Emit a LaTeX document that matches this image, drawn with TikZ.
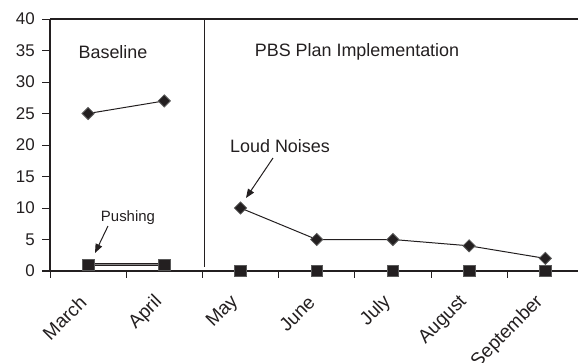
\documentclass[tikz,border=0pt]{standalone}
\usepackage{fontspec}
\setmainfont{Liberation Sans}
\usetikzlibrary{shapes.geometric,arrows.meta}
\definecolor{ink}{HTML}{231F20}
\definecolor{edge}{HTML}{5A5A5A}
\tikzset{
  dmark/.style={diamond,fill=ink,draw=edge,line width=0.8bp,inner sep=0pt,minimum width=12.5bp,minimum height=12.5bp},
  smark/.style={rectangle,fill=ink,draw=edge,line width=0.6bp,inner sep=0pt,minimum size=11.5bp},
  series/.style={draw=ink,line width=1bp},
  pushline/.style={draw=ink,line width=0.7bp,double=ink!55,double distance=1.3bp},
  axisline/.style={draw=ink,line width=1.9bp},
  frameline/.style={draw=ink,line width=1.3bp},
  tick/.style={draw=ink,line width=1bp},
  ylab/.style={anchor=east,inner sep=0pt,text=ink,font=\fontsize{17}{19}\selectfont},
  mlab/.style={anchor=east,rotate=45,inner sep=0pt,text=ink,font=\fontsize{19}{21}\selectfont},
  lab/.style={inner sep=0pt,text=ink,font=\fontsize{18}{20}\selectfont},
  slab/.style={inner sep=0pt,text=ink,font=\fontsize{15}{17}\selectfont},
  arr/.style={draw=ink,line width=1bp,-{Triangle[length=9bp,width=7bp]}},
}
\begin{document}
\begin{tikzpicture}[x=1bp,y=-1bp]
\useasboundingbox (0,0) rectangle (578,362);
\begin{scope}
\clip (0,0) rectangle (578,362);
% frame coordinates
\coordinate (o) at (50,271);
\coordinate (tl) at (50,19);
\coordinate (tr) at (578,19);
\coordinate (xr) at (578,271);
\coordinate (xl) at (42,271);
\coordinate (dtop) at (204,19);
\coordinate (dbot) at (204,267);
% y ticks and labels
\foreach \j/\v in {0/0,1/5,2/10,3/15,4/20,5/25,6/30,7/35,8/40}{
  \coordinate (yt\j) at (42,{271-31.5*\j});
  \coordinate (yb\j) at (50,{271-31.5*\j});
  \draw[tick] (yt\j) -- (yb\j);
  \node[ylab] (yl\j) at (35,{271-31.5*\j}) {\v};
}
% x ticks
\foreach \i in {0,...,7}{
  \coordinate (xt\i) at ({50+76.2*\i},271);
  \coordinate (xb\i) at ({50+76.2*\i},278);
  \draw[tick] (xt\i) -- (xb\i);
}
% axes and frame
\draw[frameline] (tl) -- (tr);
\draw[axisline] (tl) -- (o);
\draw[axisline] (xl) -- (xr);
\draw[series] (dtop) -- (dbot);
% month labels
\foreach \k/\m in {0/March,1/April,2/May,3/June,4/July,5/August,6/September}{
  \node[mlab] (m\k) at ({50+76.2*(\k+0.5)-5},299) {\m};
}
% data coordinates
\foreach \k/\v in {0/25,1/27,2/10,3/5,4/5,5/4,6/2}{
  \coordinate (d\k) at ({50+76.2*(\k+0.5)},{271-6.3*\v});
}
\foreach \k/\v in {0/1,1/1,2/0,3/0,4/0,5/0,6/0}{
  \coordinate (s\k) at ({50+76.2*(\k+0.5)},{271-6.3*\v});
}
% series lines
\draw[series] (d0) -- (d1);
\draw[series] (d2) -- (d3) -- (d4) -- (d5) -- (d6);
\draw[pushline] (s0) -- (s1);
\draw[series] (s2) -- (s3) -- (s4) -- (s5) -- (s6);
% markers
\foreach \k in {0,...,6}{
  \node[dmark] (D\k) at (d\k) {};
  \node[smark] (S\k) at (s\k) {};
}
% labels
\node[lab] (base) at (113,52) {Baseline};
\node[lab] (pbs) at (357,52) {PBS Plan Implementation};
\node[lab] (loud) at (280,146) {Loud Noises};
\node[slab] (push) at (128,218) {Pushing};
% arrows
\coordinate (la) at (273,158);
\coordinate (lb) at (246,198);
\draw[arr] (la) -- (lb);
\coordinate (pa) at (108,226);
\coordinate (pb) at (95,253);
\draw[arr] (pa) -- (pb);
\end{scope}
\end{tikzpicture}
\end{document}
